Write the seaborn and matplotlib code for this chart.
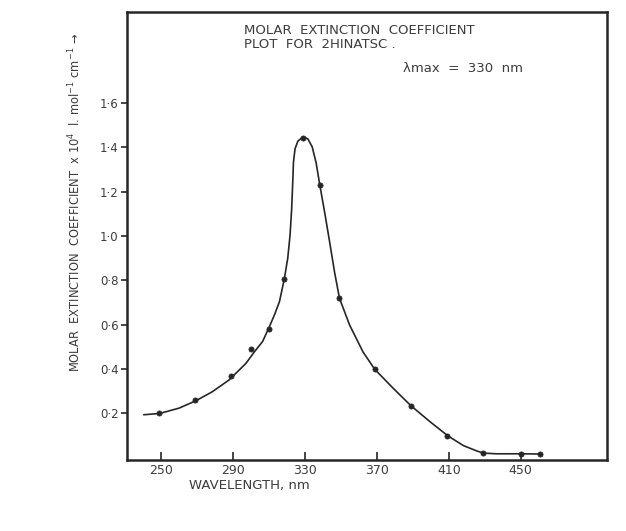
import matplotlib
matplotlib.use("Agg")
import matplotlib.pyplot as plt
import seaborn as sns

# Measured data points (wavelength in nm, molar extinction coefficient x 10^4)
wavelength_pts = [249, 269, 289, 300, 310, 318.5, 329, 338.5, 349, 369, 389, 409, 429, 450, 461]
epsilon_pts = [0.20, 0.26, 0.37, 0.49, 0.58, 0.806, 1.444, 1.23, 0.72, 0.40, 0.235, 0.10, 0.021, 0.015, 0.015]

# Hand-drawn smooth curve
curve_wl = [240.3, 249.3, 260, 269.3, 278.5, 287.8, 297.2, 301.6, 306.4, 310.2,
            313.0, 315.8, 318.5, 320.4, 321.7, 322.6, 323.2, 323.6, 324.5, 326.0,
            328.8, 331.6, 334.0, 336.2, 338.1, 340.9, 343.7, 346.5, 349.2, 354.8,
            362.3, 368.8, 379.0, 388.9, 399.5, 409.3, 418.1, 425.5, 429.2, 436.7,
            449.6, 460.8]
curve_val = [0.194, 0.200, 0.224, 0.257, 0.298, 0.351, 0.426, 0.475, 0.524, 0.591,
             0.644, 0.704, 0.806, 0.899, 1.004, 1.124, 1.244, 1.334, 1.394, 1.427,
             1.447, 1.438, 1.402, 1.330, 1.237, 1.109, 0.974, 0.835, 0.719, 0.599,
             0.477, 0.399, 0.314, 0.235, 0.163, 0.100, 0.055, 0.031, 0.021, 0.018,
             0.018, 0.017]

x_ticks = [250, 290, 330, 370, 410, 450]
x_tick_labels = ["250", "290", "330", "370", "410", "450"]
y_ticks = [0.2, 0.4, 0.6, 0.8, 1.0, 1.2, 1.4, 1.6]
y_tick_labels = ["0·2", "0·4", "0·6", "0·8", "1·0", "1·2", "1·4", "1·6"]

title_lines = ["MOLAR  EXTINCTION  COEFFICIENT", "PLOT  FOR  2HINATSC ."]
lambda_text = "λmax  =  330  nm"
x_label = "WAVELENGTH, nm"
y_label = r"MOLAR  EXTINCTION  COEFFICIENT  x 10$^{4}$  l. mol$^{-1}$ cm$^{-1}$ →"

sns.set_theme(style="white")
plt.rcParams["font.family"] = ["DejaVu Sans"]

W, H = 626, 531
fig = plt.figure(figsize=(W / 100, H / 100), dpi=100)
fig.patch.set_facecolor("white")
ax = fig.add_axes([127 / W, 1 - 460 / H, (607 - 127) / W, (460 - 12) / H])
ax.set_facecolor("white")

ink = "#262626"
txt = "#3c3c3c"

sns.lineplot(x=curve_wl, y=curve_val, sort=False, estimator=None, ax=ax,
             color=ink, linewidth=1.2)
sns.scatterplot(x=wavelength_pts, y=epsilon_pts, ax=ax, color=ink, s=14,
                marker="o", edgecolor=ink, linewidth=0.5, zorder=5)

ax.set_xlim(231, 498)
ax.set_ylim(-0.01, 2.01)

ax.set_xticks(x_ticks)
ax.set_xticklabels(x_tick_labels, fontsize=9, color=txt)
ax.set_yticks(y_ticks)
ax.set_yticklabels(y_tick_labels, fontsize=8.5, color=txt)
ax.tick_params(axis="x", direction="in", length=6, width=1.2, color=ink, pad=3,
               bottom=True)
ax.tick_params(axis="y", direction="out", length=4, width=1.2, color=ink, pad=2,
               left=True)
ax.set_xlabel("")
ax.set_ylabel("")

for s in ax.spines.values():
    s.set_visible(True)
    s.set_color(ink)
    s.set_linewidth(1.8)

fig.text(249 / W, 1 - 485 / H, x_label, ha="center", va="center",
         fontsize=9.5, color=txt)
fig.text(75 / W, 1 - 202 / H, y_label, ha="center", va="center",
         rotation=90, fontsize=8.3, color=txt)
fig.text(244 / W, 1 - 30 / H, title_lines[0], ha="left", va="center",
         fontsize=9.5, color=txt)
fig.text(244 / W, 1 - 45 / H, title_lines[1], ha="left", va="center",
         fontsize=9.5, color=txt)
fig.text(403 / W, 1 - 69 / H, lambda_text, ha="left", va="center",
         fontsize=9.5, color=txt)

fig.savefig("out.png", dpi=100, facecolor="white")
